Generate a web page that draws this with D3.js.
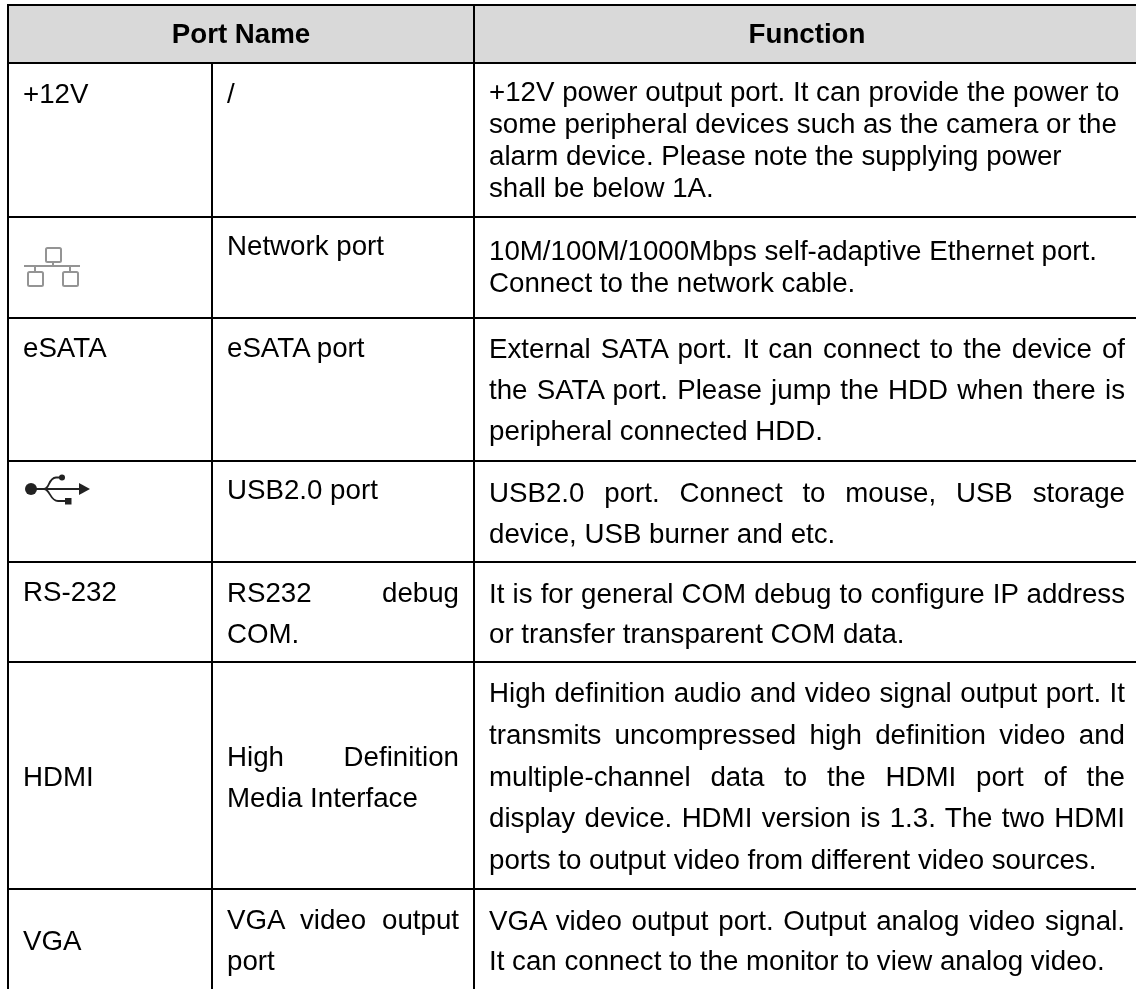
<!DOCTYPE html>
<html>
<head>
<meta charset="utf-8">
<script src="https://cdnjs.cloudflare.com/ajax/libs/d3/7.8.5/d3.min.js"></script>
<style>
html, body { margin: 0; padding: 0; background: #fff; }
svg { display: block; }
text { font-family: "Liberation Sans", Arial, sans-serif; fill: #000; filter: blur(0.3px); }
</style>
</head>
<body>
<svg id="chart" width="1136" height="989"></svg>
<script>
var headers = ['Port Name', 'Function'];
var portNames = ['+12V', '', 'eSATA', '', 'RS-232', 'HDMI', 'VGA'];
var portTypes = [
    ['/'],
    ['Network port'],
    ['eSATA port'],
    ['USB2.0 port'],
    ['RS232 debug', 'COM.'],
    ['High Definition', 'Media Interface'],
    ['VGA video output', 'port']
];
var functions = [
    ['+12V power output port. It can provide the power to', 'some peripheral devices such as the camera or the', 'alarm device. Please note the supplying power', 'shall be below 1A.'],
    ['10M/100M/1000Mbps self-adaptive Ethernet port.', 'Connect to the network cable.'],
    ['External SATA port. It can connect to the device of', 'the SATA port. Please jump the HDD when there is', 'peripheral connected HDD.'],
    ['USB2.0 port. Connect to mouse, USB storage', 'device, USB burner and etc.'],
    ['It is for general COM debug to configure IP address', 'or transfer transparent COM data.'],
    ['High definition audio and video signal output port. It', 'transmits uncompressed high definition video and', 'multiple-channel data to the HDMI port of the', 'display device. HDMI version is 1.3. The two HDMI', 'ports to output video from different video sources.'],
    ['VGA video output port. Output analog video signal.', 'It can connect to the monitor to view analog video.']
];

var FONT_SIZE = 27.7;
var rowIndex = d3.range(portNames.length);
var rowTop = d3.scaleOrdinal().domain(rowIndex).range([63, 217, 318, 461, 562, 662, 889]);
var colX = d3.scaleOrdinal().domain(['name', 'type', 'func', 'end']).range([8, 212, 474, 1136]);
var lineStep = d3.scaleOrdinal().domain(rowIndex).range([32, 32, 41, 41, 40, 41.8, 40]);
var firstBase = d3.scaleOrdinal().domain(rowIndex).range([101, 260, 358, 502, 603, 702, 930]);
var typeBase = d3.scaleOrdinal().domain(rowIndex).range([103, 255, 357, 499, 602, 766, 929]);
var nameBase = d3.scaleOrdinal().domain(rowIndex).range([103, 0, 357, 0, 601, 786, 950]);
var PAD = 15;

var svg = d3.select('#chart');
var defs = svg.append('defs');
defs.append('filter').attr('id', 'soft')
    .append('feGaussianBlur').attr('stdDeviation', 0.7);

// header band
svg.append('rect')
    .attr('x', colX('name')).attr('y', 5)
    .attr('width', colX('end') - colX('name')).attr('height', 58)
    .attr('fill', '#d9d9d9');

// grid
var hLines = [5].concat(rowIndex.map(function(i) { return rowTop(i); }));
svg.selectAll('.h-line').data(hLines).enter().append('line')
    .attr('class', 'h-line')
    .attr('x1', colX('name') - 1).attr('x2', colX('end'))
    .attr('y1', function(d) { return d; }).attr('y2', function(d) { return d; })
    .attr('stroke', '#000').attr('stroke-width', 2);

var vLines = [
    { x: colX('name'), y1: 4 },
    { x: colX('type'), y1: 63 },
    { x: colX('func'), y1: 4 }
];
svg.selectAll('.v-line').data(vLines).enter().append('line')
    .attr('class', 'v-line')
    .attr('x1', function(d) { return d.x; }).attr('x2', function(d) { return d.x; })
    .attr('y1', function(d) { return d.y1; }).attr('y2', 989)
    .attr('stroke', '#000').attr('stroke-width', 2);

// header text
svg.selectAll('.head').data(headers).enter().append('text')
    .attr('class', 'head')
    .attr('x', function(d, i) { return i == 0 ? (colX('name') + colX('func')) / 2 : (colX('func') + colX('end')) / 2 + 2; })
    .attr('y', 43)
    .attr('text-anchor', 'middle')
    .attr('font-weight', 'bold')
    .attr('font-size', FONT_SIZE)
    .text(function(d) { return d; });

// stretches a line to the cell width by widening the spaces
function justify(sel, width) {
    sel.each(function() {
        var node = d3.select(this);
        var gaps = node.text().split(' ').length - 1;
        if (gaps == 0) return;
        var extra = (width - this.getComputedTextLength()) / gaps;
        node.attr('word-spacing', extra);
    });
}

function drawLines(lines, x, y, step, width, className) {
    lines.forEach(function(line, k) {
        var t = svg.append('text')
            .attr('class', className)
            .attr('x', x)
            .attr('y', y + k * step)
            .attr('font-size', FONT_SIZE)
            .text(line);
        // the last line of a paragraph stays left aligned
        if (width && k < lines.length - 1) justify(t, width);
    });
}

rowIndex.forEach(function(i) {
    if (portNames[i]) {
        drawLines([portNames[i]], colX('name') + PAD, nameBase(i), 0, 0, 'port-name');
    }
    var typeWidth = colX('func') - colX('type') - 2 * PAD;
    drawLines(portTypes[i], colX('type') + PAD, typeBase(i), 41, portTypes[i].length > 1 ? typeWidth : 0, 'port-type');

    // the first +12V and network paragraphs are left aligned in the source
    var funcWidth = (i < 2) ? 0 : colX('end') - colX('func') - PAD - 11;
    drawLines(functions[i], colX('func') + PAD, firstBase(i), lineStep(i), funcWidth, 'func');
});

// network icon
var net = svg.append('g')
    .attr('fill', 'none').attr('stroke', '#949494').attr('stroke-width', 2)
    .attr('filter', 'url(#soft)');
var netBoxes = [[46, 248], [28, 272], [63, 272]];
net.selectAll('rect').data(netBoxes).enter().append('rect')
    .attr('x', function(d) { return d[0]; }).attr('y', function(d) { return d[1]; })
    .attr('width', 15).attr('height', 14).attr('rx', 1.5);
net.append('path').attr('d', 'M24 266H80M53 262V266M35 266V272M70 266V272');

// usb icon
var usb = svg.append('g').attr('fill', '#222').attr('stroke', '#222').attr('filter', 'url(#soft)');
usb.append('circle').attr('cx', 31).attr('cy', 489).attr('r', 6).attr('stroke', 'none');
usb.append('path').attr('d', 'M31 489H82').attr('stroke-width', 2);
usb.append('path').attr('d', 'M79 483L90 489L79 495Z').attr('stroke', 'none');
usb.append('path').attr('d', 'M44 489C50 489 48 478 56 477.5H62M44 489C50 489 50 501 58 501H67')
    .attr('fill', 'none').attr('stroke-width', 1.8);
usb.append('circle').attr('cx', 62).attr('cy', 477.5).attr('r', 3).attr('stroke', 'none');
usb.append('rect').attr('x', 65).attr('y', 498).attr('width', 6.5).attr('height', 6.5).attr('stroke', 'none');
</script>
</body>
</html>
